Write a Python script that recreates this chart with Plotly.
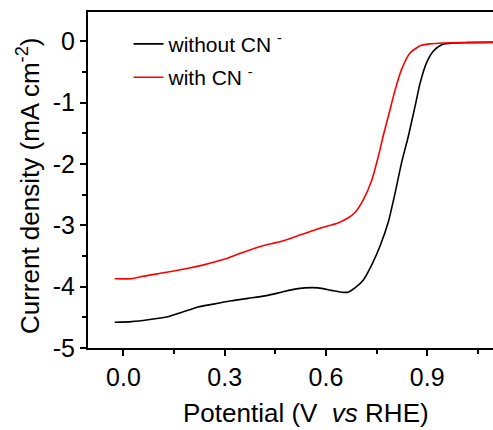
import plotly.graph_objects as go

# Data
pot_without = [-0.026, 0.024, 0.073, 0.132, 0.172, 0.221, 0.271, 0.320, 0.369, 0.419,
               0.468, 0.508, 0.537, 0.577, 0.616, 0.646, 0.665, 0.686, 0.711, 0.736,
               0.760, 0.785, 0.805, 0.824, 0.844, 0.864, 0.879, 0.898, 0.918, 0.943,
               0.977, 1.02, 1.095]
cur_without = [-4.58, -4.57, -4.54, -4.49, -4.42, -4.33, -4.28, -4.23, -4.19, -4.15,
               -4.09, -4.04, -4.02, -4.02, -4.06, -4.09, -4.09, -4.02, -3.89, -3.64,
               -3.34, -2.94, -2.47, -1.98, -1.55, -1.06, -0.68, -0.35, -0.16, -0.054,
               -0.026, -0.02, -0.015]

pot_with = [-0.026, 0.024, 0.058, 0.123, 0.192, 0.241, 0.300, 0.349, 0.409, 0.468,
            0.527, 0.586, 0.636, 0.665, 0.686, 0.711, 0.736, 0.755, 0.772, 0.790,
            0.805, 0.824, 0.849, 0.879, 0.908, 0.95, 1.0, 1.095]
cur_with = [-3.87, -3.87, -3.83, -3.77, -3.70, -3.64, -3.55, -3.45, -3.34, -3.26,
            -3.15, -3.04, -2.96, -2.88, -2.79, -2.58, -2.26, -1.88, -1.49, -1.11,
            -0.79, -0.46, -0.19, -0.07, -0.04, -0.025, -0.018, -0.012]

x_ticks = [0.0, 0.3, 0.6, 0.9]
x_ticklabels = ["0.0", "0.3", "0.6", "0.9"]
x_minor = [0.15, 0.45, 0.75, 1.05]
y_ticks = [-5, -4, -3, -2, -1, 0]
y_ticklabels = ["-5", "-4", "-3", "-2", "-1", "0"]

series_names = ["without CN <sup>-</sup>", "with CN <sup>-</sup>"]
series_colors = ["#000000", "#ff0000"]

FONT = "Arial, 'Liberation Sans', sans-serif"

fig = go.Figure()
fig.add_trace(go.Scatter(x=pot_without, y=cur_without, mode="lines",
                         name=series_names[0], legendgroup="a",
                         line=dict(color=series_colors[0], width=1.6, shape="spline", smoothing=0.6)))
fig.add_trace(go.Scatter(x=pot_with, y=cur_with, mode="lines",
                         name=series_names[1], legendgroup="b",
                         line=dict(color=series_colors[1], width=1.6, shape="spline", smoothing=0.6)))

fig.update_layout(
    width=493, height=430,
    margin=dict(l=88, r=0, t=12, b=82),
    paper_bgcolor="white", plot_bgcolor="white",
    font=dict(family=FONT, color="black"),
    showlegend=True,
    legend=dict(x=0.1, y=0.965, xanchor="left", yanchor="top",
                font=dict(size=21, family=FONT), bgcolor="rgba(0,0,0,0)",
                traceorder="grouped", tracegroupgap=3, itemwidth=30),
    xaxis=dict(range=[-0.105, 1.095], tickvals=x_ticks, ticktext=x_ticklabels,
               ticks="outside", ticklen=6, tickwidth=1.5, tickcolor="black",
               showline=True, linewidth=2, linecolor="black", mirror=True,
               showgrid=False, zeroline=False,
               tickfont=dict(size=25, family=FONT),
               minor=dict(tickvals=x_minor, ticks="outside", ticklen=4,
                          tickwidth=1.5, tickcolor="black", showgrid=False)),
    yaxis=dict(range=[-5, 0.48], tickvals=y_ticks, ticktext=y_ticklabels,
               ticks="outside", ticklen=6, tickwidth=1.5, tickcolor="black",
               showline=True, linewidth=2, linecolor="black", mirror=False,
               showgrid=False, zeroline=False,
               tickfont=dict(size=25, family=FONT),
               minor=dict(dtick=0.5, tick0=0, ticks="outside", ticklen=4,
                          tickwidth=1.5, tickcolor="black", showgrid=False)),
    annotations=[
        dict(text="Potential (V&nbsp; <i>vs</i> RHE)", xref="paper", yref="paper",
             x=0.538, y=0, xanchor="center", yanchor="middle", yshift=-65,
             showarrow=False, font=dict(size=26, family=FONT)),
        dict(text="Current density (mA cm<sup>-2</sup>)", xref="paper", yref="paper",
             x=0, y=0.482, xanchor="center", yanchor="middle", xshift=-60,
             textangle=-90, showarrow=False, font=dict(size=26, family=FONT)),
    ],
)

fig.write_html("out.html", config={"displayModeBar": False},
               post_script="document.body.style.margin='0';")
